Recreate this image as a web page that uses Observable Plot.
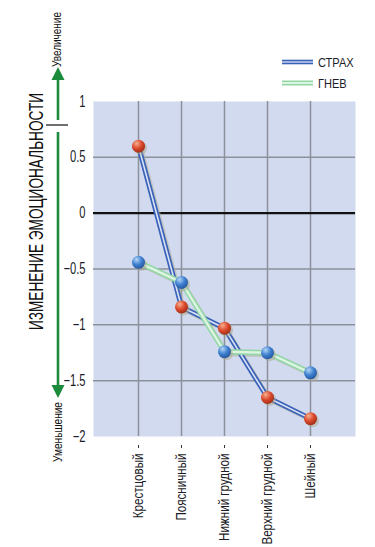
<!DOCTYPE html>
<html>
<head>
<meta charset="utf-8">
<script src="https://cdn.jsdelivr.net/npm/d3@7"></script>
<script src="https://cdn.jsdelivr.net/npm/@observablehq/plot@0.6"></script>
<style>
  html, body { margin: 0; padding: 0; background: #fff; }
  #chart { position: relative; width: 375px; height: 547px; overflow: hidden; }
</style>
</head>
<body>
<div id="chart"></div>
<script>
const categories = ["Крестцовый", "Поясничный", "Нижний грудной", "Верхний грудной", "Шейный"];
const strakh = [0.6, -0.84, -1.03, -1.65, -1.84];   // СТРАХ (blue line, red markers)
const gnev = [-0.44, -0.62, -1.24, -1.25, -1.43];   // ГНЕВ (green line, blue markers)
const yTicks = [1, 0.5, 0, -0.5, -1, -1.5, -2];
const seriesNames = ["СТРАХ", "ГНЕВ"];
const yTitle = "ИЗМЕНЕНИЕ ЭМОЦИОНАЛЬНОСТИ";
const upLabel = "Увеличение";
const downLabel = "Уменьшение";

const rowsS = categories.map((c, i) => ({cat: c, v: strakh[i]}));
const rowsG = categories.map((c, i) => ({cat: c, v: gnev[i]}));
const FONT = "'Liberation Sans', Arial, sans-serif";

const chart = Plot.plot({
  width: 375,
  height: 547,
  marginTop: 101,
  marginBottom: 111,
  marginLeft: 93,
  marginRight: 20,
  style: {fontFamily: FONT, fontSize: "15px", color: "#1c1c28", background: "#fff"},
  x: {type: "point", domain: categories, padding: 1},
  y: {domain: [-2, 1]},
  marks: [
    Plot.frame({fill: "#d1daee", stroke: null}),
    Plot.ruleX(categories, {stroke: "#8d919b", strokeWidth: 1.5}),
    Plot.ruleY(yTicks.filter(d => d !== 0 && d !== 1 && d !== -2), {stroke: "#8d919b", strokeWidth: 1.5}),
    Plot.ruleY([0], {stroke: "#111", strokeWidth: 2.2}),
    Plot.axisY({ticks: yTicks, tickSize: 0, tickPadding: 8, label: null, fontSize: 16, tickFormat: d3.format("")}),
    Plot.axisX({tickSize: 3, dy: 9, tickPadding: 5, tickRotate: -90, label: null, fontSize: 14, stroke: "#333"}),
    // shadows
    Plot.line(rowsS, {x: "cat", y: "v", stroke: "#b5b29a", strokeOpacity: 0.55, strokeWidth: 5, dx: 2, dy: 2}),
    Plot.line(rowsG, {x: "cat", y: "v", stroke: "#b5b29a", strokeOpacity: 0.55, strokeWidth: 5, dx: 2, dy: 2}),
    // СТРАХ line (double blue)
    Plot.line(rowsS, {x: "cat", y: "v", stroke: "#3a62b8", strokeWidth: 5}),
    Plot.line(rowsS, {x: "cat", y: "v", stroke: "#dbe4f6", strokeWidth: 1.6}),
    // ГНЕВ line (green)
    Plot.line(rowsG, {x: "cat", y: "v", stroke: "#92d6a6", strokeWidth: 5.5}),
    Plot.line(rowsG, {x: "cat", y: "v", stroke: "#ddf4e2", strokeWidth: 2.4}),
    // dot shadows
    Plot.dot(rowsS, {x: "cat", y: "v", r: 6.5, fill: "#a9a68c", fillOpacity: 0.5, dx: 2, dy: 2}),
    Plot.dot(rowsG, {x: "cat", y: "v", r: 6.5, fill: "#a9a68c", fillOpacity: 0.5, dx: 2, dy: 2}),
    // dots
    Plot.dot(rowsS, {x: "cat", y: "v", r: 6.5, fill: "url(#gradRed)"}),
    Plot.dot(rowsG, {x: "cat", y: "v", r: 6.5, fill: "url(#gradBlue)"})
  ]
});

document.getElementById("chart").appendChild(chart);

const svg = d3.select(chart);
const defs = svg.insert("defs", ":first-child");
function grad(id, hi, mid, edge) {
  const g = defs.append("radialGradient").attr("id", id)
    .attr("cx", "38%").attr("cy", "32%").attr("r", "70%").attr("fx", "35%").attr("fy", "28%");
  g.append("stop").attr("offset", "0%").attr("stop-color", hi);
  g.append("stop").attr("offset", "55%").attr("stop-color", mid);
  g.append("stop").attr("offset", "100%").attr("stop-color", edge);
}
grad("gradRed", "#f6b090", "#dc4a2c", "#a02d18");
grad("gradBlue", "#b4d6f6", "#3f80d0", "#25579f");

// condense text (the original uses a narrow face)
function condense(sel, k) {
  sel.each(function () {
    const len = this.getComputedTextLength();
    if (len > 0) {
      this.setAttribute("textLength", (len * k).toFixed(1));
      this.setAttribute("lengthAdjust", "spacingAndGlyphs");
    }
  });
}
condense(svg.selectAll('g[aria-label="x-axis tick label"] text'), 0.83);
condense(svg.selectAll('g[aria-label="y-axis tick label"] text'), 0.7);

// Left annotation: arrow + title
const ann = svg.append("g");
const green = "#1d8b3c";
const ax = 58;
ann.append("line").attr("x1", ax).attr("x2", ax).attr("y1", 78).attr("y2", 120)
  .attr("stroke", green).attr("stroke-width", 2.6);
ann.append("line").attr("x1", ax).attr("x2", ax).attr("y1", 132).attr("y2", 388)
  .attr("stroke", green).attr("stroke-width", 2.6);
ann.append("path").attr("d", `M${ax},67 L${ax - 6.5},80 L${ax + 6.5},80 Z`).attr("fill", green);
ann.append("path").attr("d", `M${ax},398 L${ax - 6.5},385 L${ax + 6.5},385 Z`).attr("fill", green);
ann.append("line").attr("x1", 46).attr("x2", 68).attr("y1", 125).attr("y2", 125)
  .attr("stroke", "#333").attr("stroke-width", 1.4);

ann.append("text")
  .attr("transform", `translate(43,211.5) rotate(-90)`)
  .attr("text-anchor", "middle")
  .attr("font-family", FONT).attr("font-size", 21).attr("fill", "#111")
  .attr("textLength", 237).attr("lengthAdjust", "spacingAndGlyphs")
  .text(yTitle);
ann.append("text")
  .attr("transform", `translate(61,39.5) rotate(-90)`)
  .attr("text-anchor", "middle")
  .attr("font-family", FONT).attr("font-size", 12).attr("fill", "#111")
  .attr("textLength", 55).attr("lengthAdjust", "spacingAndGlyphs")
  .text(upLabel);
ann.append("text")
  .attr("transform", `translate(62,432) rotate(-90)`)
  .attr("text-anchor", "middle")
  .attr("font-family", FONT).attr("font-size", 12).attr("fill", "#111")
  .attr("textLength", 60).attr("lengthAdjust", "spacingAndGlyphs")
  .text(downLabel);

// Legend
const leg = svg.append("g").attr("font-family", FONT).attr("font-size", 13)
  .attr("fill", "#1c1c28").attr("text-anchor", "start");
const legY = [62, 83];
leg.append("line").attr("x1", 282).attr("x2", 313).attr("y1", legY[0]).attr("y2", legY[0]).attr("stroke", "#3a62b8").attr("stroke-width", 4.6);
leg.append("line").attr("x1", 282).attr("x2", 313).attr("y1", legY[0]).attr("y2", legY[0]).attr("stroke", "#dbe4f6").attr("stroke-width", 1.3);
leg.append("line").attr("x1", 282).attr("x2", 313).attr("y1", legY[1]).attr("y2", legY[1]).attr("stroke", "#92d6a6").attr("stroke-width", 5);
leg.append("line").attr("x1", 282).attr("x2", 313).attr("y1", legY[1]).attr("y2", legY[1]).attr("stroke", "#ddf4e2").attr("stroke-width", 2);
seriesNames.forEach((n, i) => {
  const t = leg.append("text").attr("x", 318).attr("y", legY[i]).attr("dy", "0.36em").text(n);
  condense(t, 0.85);
});
</script>
</body>
</html>
